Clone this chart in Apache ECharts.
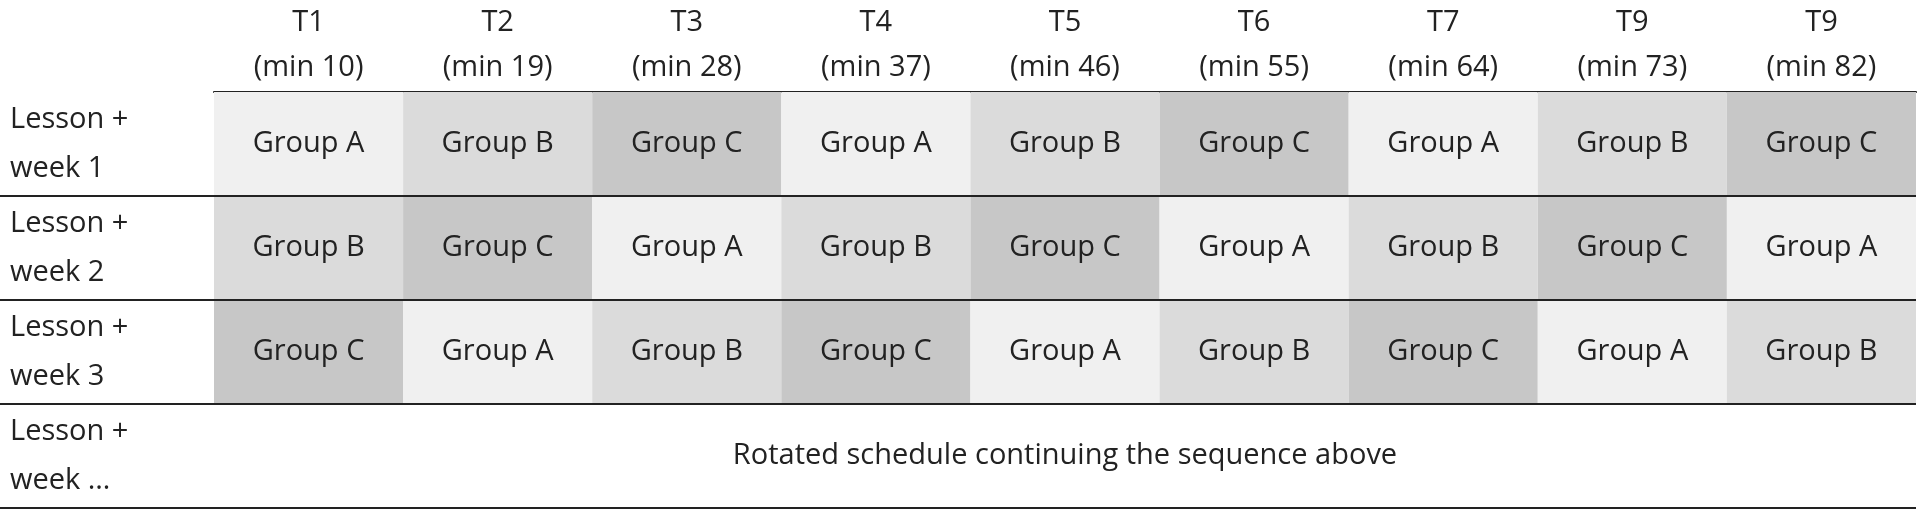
<!DOCTYPE html>
<html><head><meta charset="utf-8">
<script src="https://cdn.jsdelivr.net/npm/echarts@6/dist/echarts.min.js"></script>
<style>html,body{margin:0;padding:0;background:#fff}#c{width:1920px;height:509px}</style>
</head><body><div id="c"></div>
<script>
const columns = ['T1\n(min 10)','T2\n(min 19)','T3\n(min 28)','T4\n(min 37)','T5\n(min 46)','T6\n(min 55)','T7\n(min 64)','T9\n(min 73)','T9\n(min 82)'];
const rows = ['Lesson +\nweek 1','Lesson +\nweek 2','Lesson +\nweek 3','Lesson +\nweek …'];
const week1 = ['Group A','Group B','Group C','Group A','Group B','Group C','Group A','Group B','Group C'];
const week2 = ['Group B','Group C','Group A','Group B','Group C','Group A','Group B','Group C','Group A'];
const week3 = ['Group C','Group A','Group B','Group C','Group A','Group B','Group C','Group A','Group B'];
const footnote = 'Rotated schedule continuing the sequence above';
const groupColors = {'Group A':'#f0f0f0','Group B':'#dbdbdb','Group C':'#c7c7c7'};
const FONT = '"Open Sans", sans-serif';
const FS = 29;

const data = [];
[week1, week2, week3].forEach((w, r) => w.forEach((g, c) => data.push([c, r, g])));

const chart = echarts.init(document.getElementById('c'));
chart.setOption({
  animation: false,
  grid: {left: 214, right: 4, top: 88, bottom: 1},
  xAxis: {type: 'category', data: columns, position: 'top',
    axisLine: {lineStyle: {color: '#222', width: 2}}, axisTick: {show: false},
    axisLabel: {margin: 2, lineHeight: 45, fontSize: FS, color: '#222', fontFamily: FONT}},
  yAxis: {type: 'category', data: rows, inverse: true,
    axisLine: {show: false}, axisTick: {show: false}, splitLine: {show: false},
    axisLabel: {align: 'left', margin: 204, lineHeight: 49, fontSize: FS, color: '#222', fontFamily: FONT,
      padding: [6, 0, 0, 0]}},
  series: [{
    type: 'custom',
    data: data,
    renderItem: function (params, api) {
      const p = api.coord([api.value(0), api.value(1)]);
      const s = api.size([1, 1]);
      const g = data[params.dataIndex][2];
      return {type: 'rect',
        shape: {x: p[0] - s[0] / 2, y: p[1] - s[1] / 2, width: s[0], height: s[1]},
        style: {fill: groupColors[g]},
        textContent: {style: {text: g, fill: '#222', fontSize: FS, fontFamily: FONT}},
        textConfig: {position: 'inside'}};
    }
  }]
});

function drawGraphics() {
  const els = [];
  const xr = chart.convertToPixel({xAxisIndex: 0}, columns.length - 1) + chart.getModel().getComponent('xAxis').axis.getBandWidth() / 2;
  const bw = chart.getModel().getComponent('yAxis').axis.getBandWidth();
  rows.forEach((r, i) => {
    const y = chart.convertToPixel({yAxisIndex: 0}, i) + bw / 2;
    els.push({type: 'line', shape: {x1: 0, y1: y, x2: xr, y2: y}, style: {stroke: '#222', lineWidth: 2}, z: 10});
  });
  const cx = (chart.convertToPixel({xAxisIndex: 0}, 0) + chart.convertToPixel({xAxisIndex: 0}, columns.length - 1)) / 2;
  const cy = chart.convertToPixel({yAxisIndex: 0}, rows.length - 1);
  els.push({type: 'text', x: cx, y: cy, style: {text: footnote, fill: '#222', fontSize: FS, fontFamily: FONT, align: 'center', verticalAlign: 'middle'}, z: 10});
  chart.setOption({graphic: els});
}
drawGraphics();
</script></body></html>
